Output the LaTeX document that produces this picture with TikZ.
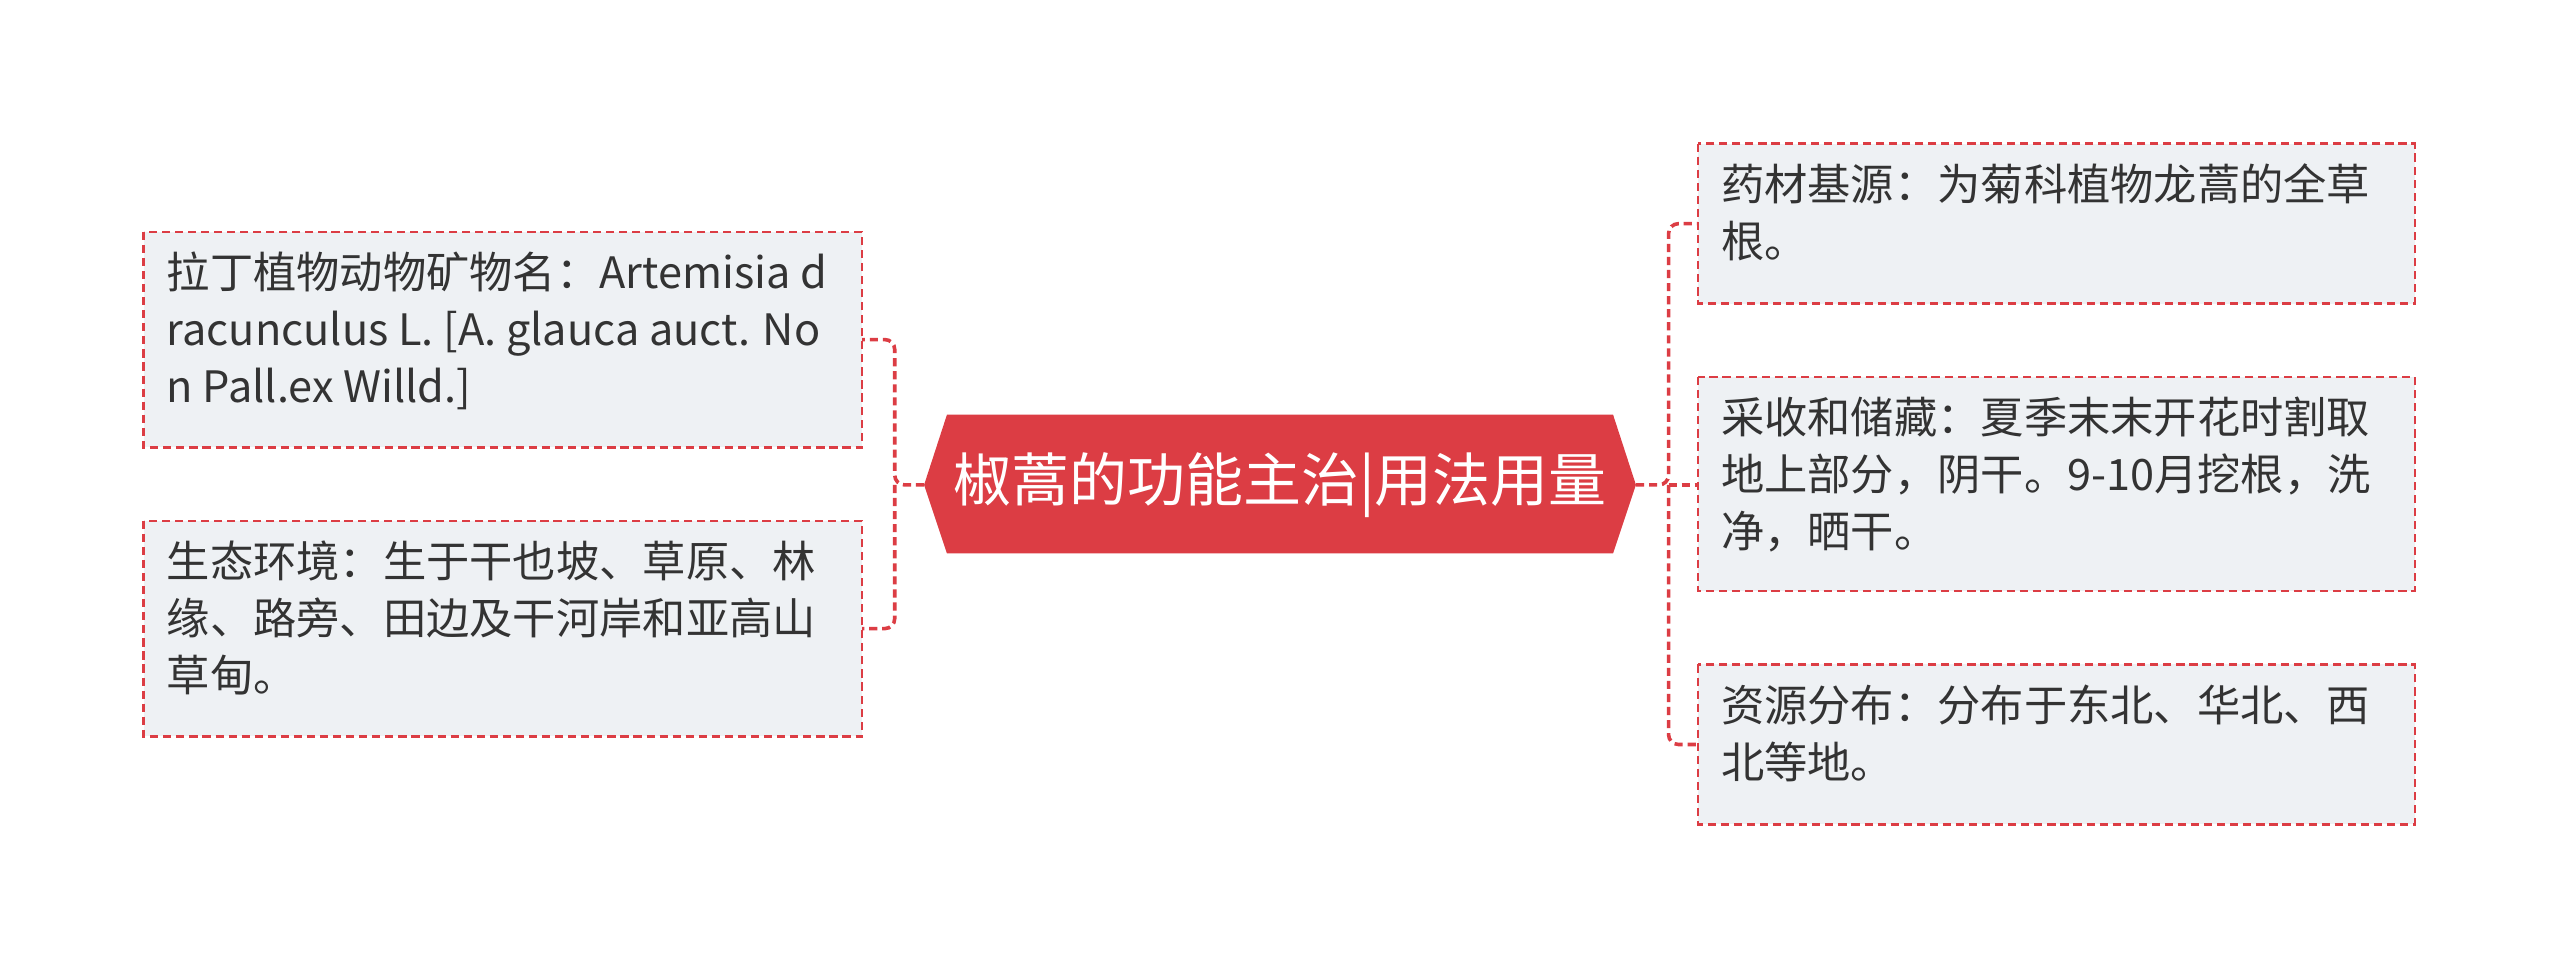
\documentclass[tikz,border=0pt]{standalone}
\usepackage{fontspec}
\setmainfont{Noto Sans CJK SC}
\usetikzlibrary{shapes.misc}
\definecolor{lred}{HTML}{DC3D44}
\definecolor{boxbg}{HTML}{EEF1F4}
\definecolor{txt}{HTML}{333333}
\begin{document}
\begin{tikzpicture}[x=1pt,y=-1pt,
 leaf/.style={draw=lred,dash pattern=on 5pt off 3pt,line width=1.5pt,fill=boxbg,rectangle,inner sep=0pt},
 ltext/.style={anchor=north west,align=left,font=\fontsize{26.5}{35}\selectfont,text=txt,inner sep=0pt},
 conn/.style={draw=lred,dash pattern=on 5pt off 3pt,line width=2.2pt,rounded corners=6pt}]
\useasboundingbox[fill=white] (0,0) rectangle (1568,593);
% center hexagon
\fill[lred] (566,297) -- (580,254) -- (988,254) -- (1002,297) -- (988,339) -- (580,339) -- cycle;
\node[font=\fontsize{35.5}{40}\selectfont,text=white] (c) at (784,297) {椒蒿的功能主治|用法用量};
\coordinate (cw) at (566,297); \coordinate (ce) at (1002,297);
% left boxes
\draw[leaf] (88,142) rectangle (528,274); \coordinate (l1) at (528,208);
\draw[leaf] (88,319) rectangle (528,451); \coordinate (l2) at (528,385);
\node[ltext] (t1) at (102,154) {拉丁植物动物矿物名：Artemisia d\\racunculus L. [A. glauca auct. No\\n Pall.ex Willd.]};
\node[ltext] (t2) at (102,331) {生态环境：生于干也坡、草原、林\\缘、路旁、田边及干河岸和亚高山\\草甸。};
% right boxes
\draw[leaf] (1040,88) rectangle (1479,186); \coordinate (r1) at (1040,137);
\draw[leaf] (1040,231) rectangle (1479,362); \coordinate (r2) at (1040,297);
\draw[leaf] (1040,407) rectangle (1479,505); \coordinate (r3) at (1040,456);
\node[ltext] (t3) at (1054,100) {药材基源：为菊科植物龙蒿的全草\\根。};
\node[ltext] (t4) at (1054,243) {采收和储藏：夏季末末开花时割取\\地上部分，阴干。9-10月挖根，洗\\净，晒干。};
\node[ltext] (t5) at (1054,419) {资源分布：分布于东北、华北、西\\北等地。};
% connectors
\draw[conn] (cw) -- (548,297) |- (l1);
\draw[conn] (548,297) |- (l2);
\draw[conn] (ce) -- (1022,297) |- (r1);
\draw[conn] (1022,297) |- (r3);
\draw[conn] (1022,297) -- (r2);
\end{tikzpicture}
\end{document}
